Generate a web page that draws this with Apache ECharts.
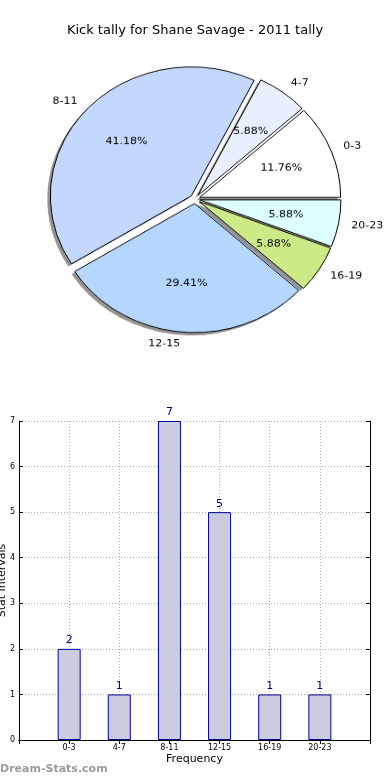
<!DOCTYPE html>
<html>
<head>
<meta charset="utf-8">
<script src="https://cdn.jsdelivr.net/npm/echarts@6/dist/echarts.min.js"></script>
<style>
html,body{margin:0;padding:0;background:#fff;}
#main{position:absolute;left:0;top:0;width:390px;height:780px;}
#pie{position:absolute;left:0;top:0;width:390px;height:400px;transform:scaleY(0.915);transform-origin:195px 199px;pointer-events:none;}
</style>
</head>
<body>
<div id="main"></div>
<div id="pie"></div>
<script>
// ---- data ----
var titleText = 'Kick tally for Shane Savage - 2011 tally';
var categories = ['0-3', '4-7', '8-11', '12-15', '16-19', '20-23'];
var values = [2, 1, 7, 5, 1, 1];
var sliceColors = ['#ffffff', '#e8f0ff', '#c4d8ff', '#b4d6ff', '#ccea88', '#ddffff'];
var yTicks = [0, 1, 2, 3, 4, 5, 6, 7];
var xAxisName = 'Frequency';
var yAxisName = 'Stat Intervals';
var watermark = 'Dream-Stats.com';

var FONT = 'DejaVu Sans';
var total = values.reduce(function (a, b) { return a + b; }, 0);

// ---- pie ----
function makeData(withColor) {
  return categories.map(function (c, i) {
    var d = { name: c, value: values[i], selected: true };
    if (withColor) d.itemStyle = { color: sliceColors[i] };
    return d;
  });
}
var R = 141;
var common = {
  type: 'pie',
  radius: [0, R],
  startAngle: 0,
  clockwise: false,
  avoidLabelOverlap: false,
  selectedMode: 'multiple',
  selectedOffset: 5,
  silent: true,
  emphasis: { disabled: true }
};
var pieChart = echarts.init(document.getElementById('pie'));
pieChart.setOption({
  animation: false,
  series: [
    Object.assign({}, common, {
      center: [192, 202],
      data: makeData(false),
      itemStyle: { color: 'rgba(0,0,0,0.42)', borderWidth: 0 },
      label: { show: false },
      labelLine: { show: false }
    }),
    Object.assign({}, common, {
      center: [195, 199],
      data: makeData(true),
      itemStyle: { borderColor: '#000', borderWidth: 1 },
      label: {
        show: true,
        position: 'outside',
        formatter: '{b}',
        fontFamily: FONT,
        fontSize: 11,
        color: '#000',
        distanceToLabelLine: 0
      },
      labelLine: { show: false, length: 13, length2: 0 }
    }),
    Object.assign({}, common, {
      center: [195, 199],
      radius: [0, R * 1.2],
      data: makeData(false),
      itemStyle: { color: 'rgba(0,0,0,0)', borderWidth: 0 },
      label: {
        show: true,
        position: 'inside',
        formatter: function (p) { return (p.value / total * 100).toFixed(2) + '%'; },
        fontFamily: FONT,
        fontSize: 11,
        color: '#000'
      },
      labelLine: { show: false }
    })
  ]
});

// ---- bar chart ----
var xCats = [''].concat(categories).concat(['']);
var barData = ['-'].concat(values).concat(['-']);
var mainChart = echarts.init(document.getElementById('main'));
var dotted = { color: '#b0b0b0', type: [1, 2], width: 1 };
mainChart.setOption({
  animation: false,
  title: {
    text: titleText,
    left: 'center',
    top: 19,
    textStyle: { fontFamily: FONT, fontSize: 13, fontWeight: 'normal', color: '#000' }
  },
  graphic: [{
    type: 'text',
    left: 0,
    top: 764,
    style: { text: watermark, fill: '#9a9a9a', font: 'bold 11px "DejaVu Sans"' }
  }],
  grid: { left: 19, right: 20, top: 421, bottom: 40, containLabel: false, outerBoundsMode: 'none' },
  xAxis: [
    {
      type: 'category',
      data: xCats,
      boundaryGap: false,
      position: 'bottom',
      name: xAxisName,
      nameLocation: 'middle',
      nameGap: 14,
      nameMoveOverlap: false,
      nameTextStyle: { fontFamily: FONT, fontSize: 11, color: '#000' },
      axisLine: { show: true, lineStyle: { color: '#000', width: 1 } },
      axisTick: { show: true, inside: true, length: 4, lineStyle: { color: '#000' } },
      axisLabel: { fontFamily: FONT, fontSize: 8, color: '#000', margin: 4, interval: 0 },
      splitLine: { show: true, lineStyle: dotted }
    },
    {
      type: 'category',
      data: xCats,
      boundaryGap: false,
      position: 'top',
      axisLine: { show: true, lineStyle: { color: '#000', width: 1 } },
      axisTick: { show: true, inside: true, length: 4, lineStyle: { color: '#000' } },
      axisLabel: { show: false },
      splitLine: { show: false }
    }
  ],
  yAxis: [
    {
      type: 'value',
      min: yTicks[0],
      max: yTicks[yTicks.length - 1],
      interval: 1,
      position: 'left',
      name: yAxisName,
      nameLocation: 'middle',
      nameGap: 11,
      nameMoveOverlap: false,
      nameTextStyle: { fontFamily: FONT, fontSize: 11, color: '#000' },
      axisLine: { show: true, lineStyle: { color: '#000', width: 1 } },
      axisTick: { show: true, inside: true, length: 4, lineStyle: { color: '#000' } },
      axisLabel: { fontFamily: FONT, fontSize: 8, color: '#000', margin: 4 },
      splitLine: { show: true, lineStyle: dotted }
    },
    {
      type: 'value',
      min: yTicks[0],
      max: yTicks[yTicks.length - 1],
      interval: 1,
      position: 'right',
      axisLine: { show: true, lineStyle: { color: '#000', width: 1 } },
      axisTick: { show: true, inside: true, length: 4, lineStyle: { color: '#000' } },
      axisLabel: { show: false },
      splitLine: { show: false }
    }
  ],
  series: [{
    type: 'bar',
    xAxisIndex: 0,
    yAxisIndex: 0,
    data: barData,
    barWidth: 23,
    itemStyle: { color: '#ccccdf', borderColor: '#000099', borderWidth: 1 },
    label: {
      show: true,
      position: 'top',
      distance: 3,
      fontFamily: FONT,
      fontSize: 11,
      color: '#000080'
    }
  }]
});
</script>
</body>
</html>
